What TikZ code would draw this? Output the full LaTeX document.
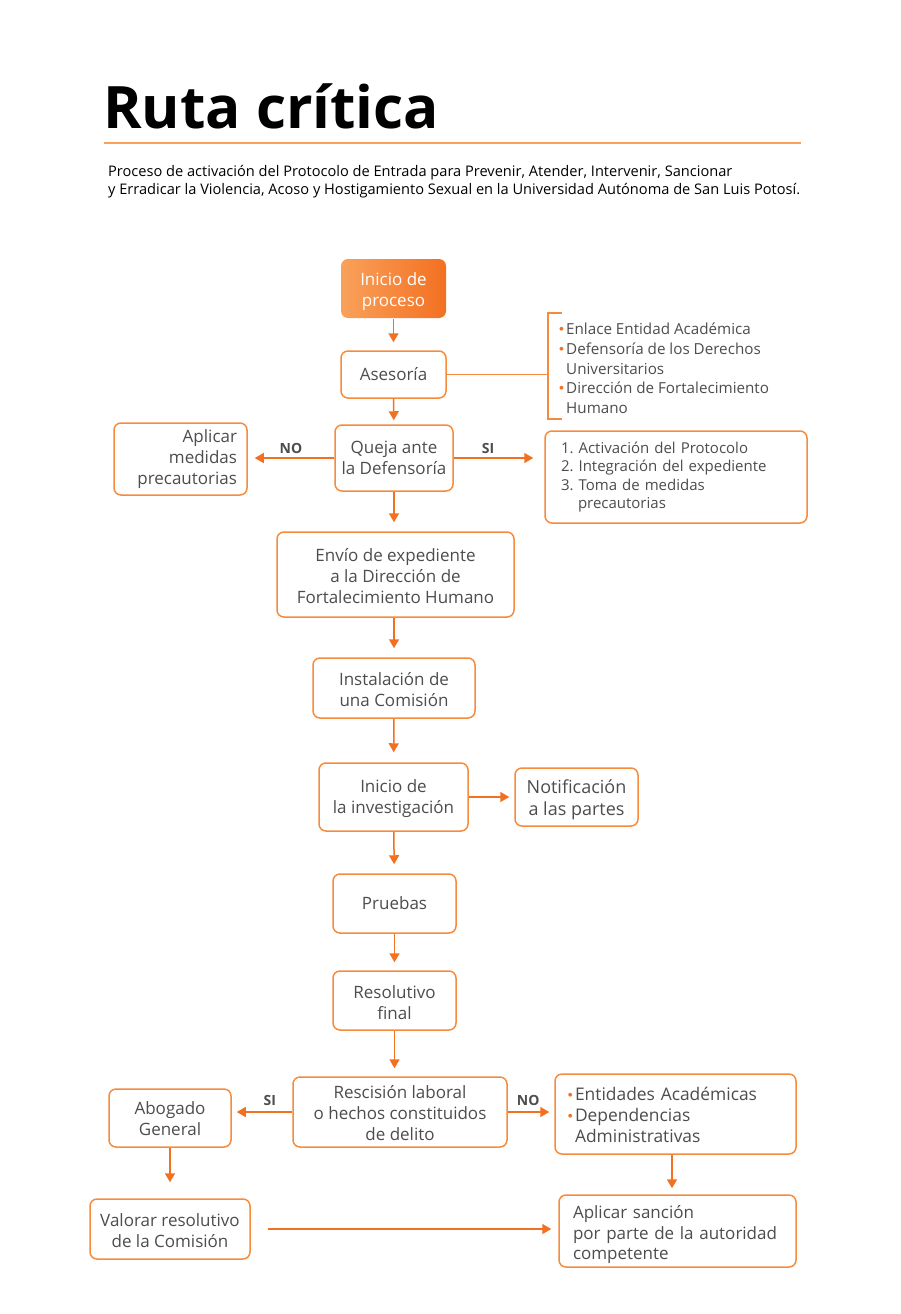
\documentclass[tikz,border=0pt]{standalone}
\usepackage{fontspec}
\setmainfont{Open Sans}
\newfontfamily\dv{DejaVu Sans}
\usetikzlibrary{arrows.meta}
\AtBeginDocument{\frenchspacing}
\definecolor{org}{HTML}{F68B3C}
\definecolor{orgd}{HTML}{F37021}
\definecolor{orgl}{HTML}{F9A15A}
\definecolor{txt}{HTML}{4D4D4D}
\newcommand\obul{\makebox[0pt][r]{\textcolor{orgd}{\raisebox{4.3pt}{\dv\fontsize{5}{5}\selectfont ●}}\hspace{2.5pt}}}
\newcommand\fs[1]{\rule{0pt}{#1pt}}
\tikzset{
 box/.style={draw=org, line width=1.5pt, rounded corners=7pt, align=center, text=txt, font=\fontsize{17}{21}\selectfont, inner sep=0pt},
 arr/.style={draw=orgd, line width=1.5pt, -{Triangle[length=9pt,width=10pt]}},
 lab/.style={font=\bfseries\fontsize{14}{16}\selectfont, text=txt, inner sep=0pt},
 small/.style={font=\fontsize{15.2}{19.7}\selectfont, text=txt, align=left, inner sep=0pt},
}
\begin{document}
\begin{tikzpicture}[x=1pt,y=-1pt]
\useasboundingbox[fill=white] (0,0) rectangle (900,1314);
% title
\node[anchor=base west, font=\bfseries\fontsize{58.5}{58.5}\selectfont, inner sep=0pt] (title) at (103,128) {Ruta crítica};
\draw[orgl, line width=1.2pt] (104,143) -- (801,143);
\node[anchor=north west, inner sep=0pt, align=left, font=\fontsize{14.6}{18}\selectfont, text=black] (sub) at (108,165)
 {Proceso de activación del Protocolo de Entrada para Prevenir, Atender, Intervenir, Sancionar\\
  y Erradicar la Violencia, Acoso y Hostigamiento Sexual en la Universidad Autónoma de San Luis Potosí.};
% nodes
\node[box, draw=none, left color=orgl, right color=orgd, text=white, minimum width=105pt, minimum height=59pt] (start) at (393.5,288.5) {\fs{18.5}Inicio de\\proceso};
\node[box, minimum width=105pt, minimum height=47pt] (ases) at (393.5,374.5) {Asesoría};
\node[small, anchor=north west] (list) at (566,323)
 {\obul Enlace Entidad Académica\\
  \obul Defensoría de los Derechos\\
  Universitarios\\
  \obul Dirección de Fortalecimiento\\
  Humano};
\node[box, minimum width=118pt, minimum height=66pt] (queja) at (394,458) {Queja ante\\la Defensoría};
\node[box, align=right, text width=113pt, inner xsep=10pt, minimum width=133pt, minimum height=72pt] (aplicar) at (180.5,459) {\fs{14}Aplicar\\medidas\\precautorias};
\node[box, small, text width=230pt, minimum width=262pt, minimum height=92pt, inner xsep=16pt, font=\fontsize{15}{18.5}\selectfont] (activ) at (676,477)
 {1. Activación del Protocolo\\
  2. Integración del expediente\\
  3. Toma de medidas\\
  \hspace*{17pt}precautorias};
\node[box, minimum width=237pt, minimum height=85pt] (envio) at (395.5,574.5) {\fs{17}Envío de expediente\\a la Dirección de\\Fortalecimiento Humano};
\node[box, minimum width=162pt, minimum height=60pt] (inst) at (394,688) {\fs{17}Instalación de\\una Comisión};
\node[box, minimum width=149pt, minimum height=68pt] (invest) at (393.5,797) {\fs{16.5}Inicio de\\la investigación};
\node[box, minimum width=123pt, minimum height=58pt, font=\fontsize{18}{22}\selectfont] (notif) at (576.5,797) {\fs{19.5}Notificación\\a las partes};
\node[box, minimum width=123pt, minimum height=59pt] (pruebas) at (394.5,903.5) {Pruebas};
\node[box, minimum width=123pt, minimum height=59pt] (resol) at (394.5,1000.5) {\fs{16.5}Resolutivo\\final};
\node[box, minimum width=214pt, minimum height=70pt] (resc) at (400,1112) {\fs{15}Rescisión laboral\\o hechos constituidos\\de delito};
\node[box, minimum width=122pt, minimum height=58pt] (abog) at (170,1118) {\fs{14.5}Abogado\\General};
\node[box, align=left, text width=201pt, minimum width=241pt, minimum height=80pt, inner xsep=20pt, font=\fontsize{17.4}{21}\selectfont, execute at begin node=\fs{15.5}] (entid) at (675.5,1114)
 {\obul Entidades Académicas\\\obul Dependencias\\Administrativas};
\node[box, align=left, text width=209pt, minimum width=237pt, minimum height=72pt, inner xsep=14pt, font=\fontsize{17}{20.5}\selectfont, execute at begin node=\fs{21}] (sanc) at (677.5,1231)
 {Aplicar sanción\\por parte de la autoridad\\competente};
\node[box, minimum width=160pt, minimum height=60pt] (valor) at (170,1229) {\fs{16.5}Valorar resolutivo\\de la Comisión};
% connectors
\draw[arr, shorten >=8pt] (start) -- (ases);
\draw[arr, shorten >=4pt] (ases) -- (queja);
\coordinate (bt) at (548,313);
\coordinate (bb) at (548,419);
\draw[org, line width=1.5pt] (ases.east) -- (ases.east -| bt);
\draw[org, line width=1.5pt] ([xshift=14pt]bt) -- (bt) -- (bb) -- ([xshift=14pt]bb);
\draw[arr, shorten >=7pt] (queja.west) -- (queja.west -| aplicar.east) node[lab, midway, above=4pt] {NO};
\draw[arr, shorten >=11pt] (queja.east) -- (queja.east -| activ.west) node[lab, pos=0.38, above=4pt] {SI};
\draw[arr, shorten >=9pt] (queja) -- (queja |- envio.north);
\draw[arr, shorten >=9pt] (envio.south -| inst) -- (inst);
\draw[arr, shorten >=10pt] (inst) -- (invest);
\draw[arr, shorten >=5pt] (invest) -- (notif);
\draw[arr, shorten >=9pt] (invest) -- (pruebas);
\draw[arr, shorten >=8pt] (pruebas) -- (resol);
\draw[arr, shorten >=8pt] (resol) -- (resol |- resc.north);
\draw[arr, shorten >=5pt] (resc.west) -- (resc.west -| abog.east) node[lab, pos=0.37, above=5.5pt] {SI};
\draw[arr, shorten >=5pt] (resc.east) -- (resc.east -| entid.west) node[lab, pos=0.44, above=5.5pt] {NO};
\draw[arr, shorten >=6pt] (entid.south -| 672,0) -- (sanc.north -| 672,0);
\draw[arr, shorten >=16pt] (abog) -- (valor);
\draw[arr, shorten <=17pt, shorten >=7pt] (valor) -- (sanc.west |- valor);
\end{tikzpicture}
\end{document}
